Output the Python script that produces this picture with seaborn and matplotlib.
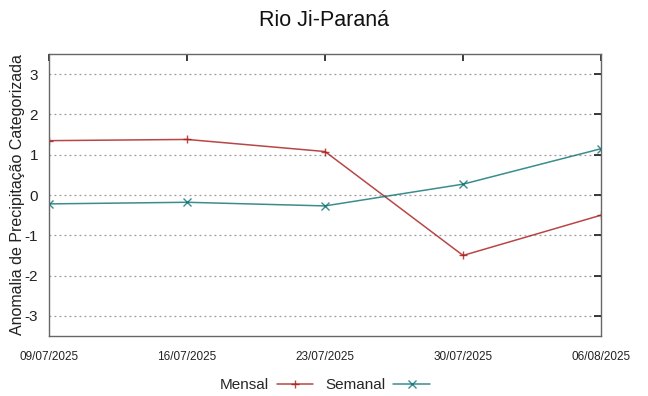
import matplotlib
matplotlib.use("Agg")
import matplotlib.pyplot as plt
import matplotlib.dates as mdates
import pandas as pd
import seaborn as sns

# dados
datas = ["2025-07-09", "2025-07-16", "2025-07-23", "2025-07-30", "2025-08-06"]
mensal = [1.35, 1.38, 1.08, -1.50, -0.50]
semanal = [-0.22, -0.18, -0.27, 0.27, 1.15]
yticks = [-3, -2, -1, 0, 1, 2, 3]

x_dt = pd.to_datetime(datas)

sns.set_theme(style="white")
plt.rcParams["font.family"] = ["Liberation Sans", "DejaVu Sans"]
plt.rcParams["axes.unicode_minus"] = False

fig = plt.figure(figsize=(6.48, 3.96), dpi=100)
ax = fig.add_axes([0.0756, 0.1515, 0.852, 0.712])

series = [("Mensal", mensal, "#a81818", "+"), ("Semanal", semanal, "#0a7070", "x")]
for nome, vals, cor, mk in series:
    sns.lineplot(x=x_dt, y=vals, color=cor, marker=mk, markersize=5.5,
                 markeredgewidth=1.0, markeredgecolor=cor, linewidth=1.1,
                 alpha=0.8, label=nome, ax=ax)

ax.set_xlim(x_dt[0], x_dt[-1])
ax.set_ylim(-3.5, 3.5)
ax.set_xticks(x_dt)
ax.xaxis.set_major_formatter(mdates.DateFormatter("%d/%m/%Y"))
ax.set_yticks(yticks)
ax.tick_params(axis="x", labelsize=8.5, direction="in", length=5, top=True,
               colors="#222222", pad=11)
ax.tick_params(axis="y", labelsize=11, direction="in", length=5, right=True,
               colors="#222222", pad=8)
ax.yaxis.grid(True, linestyle=(0, (1.5, 2.5)), color="#999999", linewidth=0.9)
ax.xaxis.grid(False)
for s in ax.spines.values():
    s.set_color("#666666")
    s.set_linewidth(1.0)

ax.set_xlabel("")
ax.set_ylabel("Anomalia de Precipitação Categorizada", fontsize=11.5,
              color="#222222")
ax.yaxis.set_label_coords(-0.044, 0.5)
fig.suptitle("Rio Ji-Paraná", fontsize=15.5, y=0.975, color="#111111")

h, l = ax.get_legend_handles_labels()
ax.legend(h, l, loc="upper center", bbox_to_anchor=(0.5, -0.1), ncol=2,
          frameon=False, markerfirst=False, fontsize=11, handlelength=2.4,
          columnspacing=0.8, handletextpad=0.5)

fig.savefig("out.png", dpi=100)
